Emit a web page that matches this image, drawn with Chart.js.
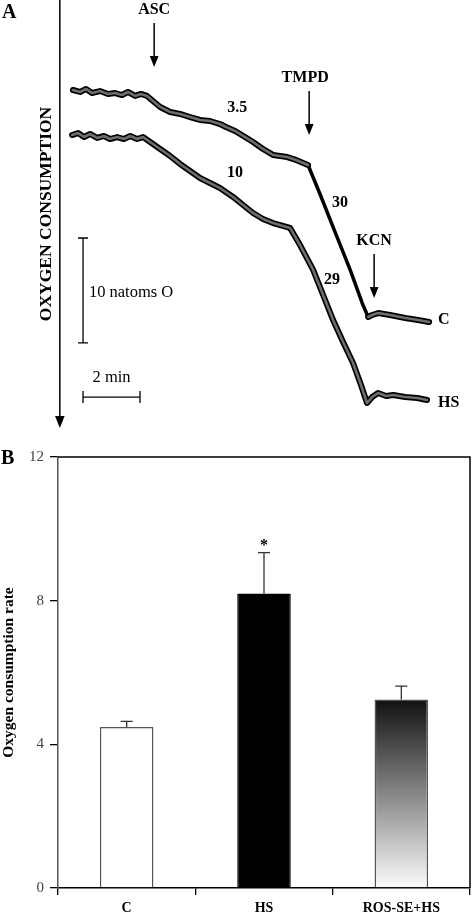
<!DOCTYPE html>
<html>
<head>
<meta charset="utf-8">
<script src="https://cdn.jsdelivr.net/npm/chart.js@4"></script>
<style>
  body { margin: 0; background: #fff; }
  #wrap { position: relative; width: 473px; height: 917px; }
  canvas { position: absolute; left: 0; }
  #traceCanvas { top: 0; }
  #barCanvas { top: 440px; }
</style>
</head>
<body>
<div id="wrap">
  <canvas id="traceCanvas" width="473" height="440"></canvas>
  <canvas id="barCanvas" width="473" height="477"></canvas>
</div>
<script>
// Panel A: oxygen electrode traces (time in min, O2 in natoms O)
const cTime = [0.46, 0.71, 0.92, 1.13, 1.41, 1.69, 1.94, 2.18, 2.39, 2.64, 2.85, 3.06, 3.27, 3.52, 3.87, 4.22, 4.57, 4.92, 5.27, 5.62, 5.83, 6.15, 6.5, 6.78, 7.13, 7.48, 7.98, 8.29, 8.54, 8.71, 9.13, 9.66, 10.19, 10.61, 10.82, 10.96, 11.17, 11.59, 12.12, 12.57, 12.96];
const cO2 = [33.41, 33.22, 33.51, 33.12, 33.31, 33.03, 33.12, 32.93, 33.22, 32.84, 33.03, 32.84, 32.36, 31.79, 31.31, 31.12, 30.83, 30.55, 30.45, 30.16, 29.88, 29.5, 28.92, 28.45, 27.78, 27.21, 27.01, 26.73, 26.44, 26.25, 23.48, 19.85, 16.23, 13.08, 11.74, 11.93, 12.12, 11.93, 11.65, 11.45, 11.26];

const hsTime = [0.43, 0.64, 0.85, 1.06, 1.31, 1.55, 1.76, 2.01, 2.25, 2.47, 2.71, 2.92, 3.17, 3.52, 3.87, 4.22, 4.57, 4.92, 5.27, 5.62, 6.08, 6.43, 6.78, 7.13, 7.48, 7.83, 8.08, 8.43, 8.89, 9.24, 9.59, 9.94, 10.29, 10.57, 10.78, 10.96, 11.17, 11.45, 11.7, 12.12, 12.54, 12.89];
const hsO2 = [29.11, 29.3, 28.92, 29.21, 28.83, 29.02, 28.73, 28.92, 28.73, 29.02, 28.73, 28.92, 28.45, 27.78, 27.11, 26.35, 25.68, 25.01, 24.53, 24.05, 23.2, 22.43, 21.67, 21.1, 20.71, 20.43, 20.24, 18.61, 16.23, 13.84, 11.45, 9.35, 7.35, 5.25, 3.53, 4.1, 4.49, 4.2, 4.3, 4.1, 4.01, 3.82];

// additions (arrows) and rates written on the traces
const addLabels = ["ASC", "TMPD", "KCN"];
const addTime = [3.31, 8.75, 11.03];
const addO2 = [35.6, 29.11, 13.55];

const rateLabels = ["3.5", "10", "30", "29"];
const rateTime = [6.23, 6.15, 9.83, 9.55];
const rateO2 = [31.69, 25.49, 22.62, 15.27];

// Panel B: rates
const groups = ["C", "HS", "ROS-SE+HS"];
const rates = [4.48, 8.2, 5.25];
const rateErr = [0.16, 1.14, 0.37];

const serif = "'Liberation Serif', 'DejaVu Serif', serif";

function zip(xs, ys) {
  return xs.map((x, i) => ({ x: x, y: ys[i] }));
}

function arrowDown(ctx, x, y1, y2, head) {
  ctx.beginPath();
  ctx.moveTo(x, y1);
  ctx.lineTo(x, y2 - head);
  ctx.stroke();
  ctx.beginPath();
  ctx.moveTo(x - head * 0.4, y2 - head);
  ctx.lineTo(x + head * 0.4, y2 - head);
  ctx.lineTo(x, y2);
  ctx.closePath();
  ctx.fill();
}

const traceNotes = {
  id: "traceNotes",
  afterDatasetsDraw(chart) {
    const ctx = chart.ctx;
    const sx = chart.scales.x, sy = chart.scales.y;
    const px = (t) => sx.getPixelForValue(t);
    const py = (v) => sy.getPixelForValue(v);
    ctx.save();
    ctx.strokeStyle = "#000";
    ctx.fillStyle = "#000";
    ctx.lineWidth = 1.5;

    // vertical axis with arrow
    arrowDown(ctx, px(0), 0, py(1.15), 12);

    // additions
    ctx.textAlign = "center";
    ctx.textBaseline = "middle";
    ctx.font = "bold 16px " + serif;
    addLabels.forEach((lab, i) => {
      const x = px(addTime[i]);
      const tip = py(addO2[i]);
      arrowDown(ctx, x, tip - 44, tip, 11);
      ctx.fillText(lab, x - (i === 1 ? 4 : 0), tip - 57);
    });

    // rates
    rateLabels.forEach((lab, i) => {
      ctx.fillText(lab, px(rateTime[i]), py(rateO2[i]));
    });

    // end labels
    ctx.textAlign = "left";
    ctx.fillText("C", px(13.27), py(11.45));
    ctx.fillText("HS", px(13.27), py(3.53));

    // y label
    ctx.save();
    ctx.translate(46, 214);
    ctx.rotate(-Math.PI / 2);
    ctx.textAlign = "center";
    ctx.font = "bold 17.5px " + serif;
    ctx.fillText("OXYGEN CONSUMPTION", 0, 0);
    ctx.restore();

    // panel letter
    ctx.font = "bold 20px " + serif;
    ctx.fillText("A", 2, 13);

    // scale bars
    ctx.lineWidth = 1.3;
    const bx = px(0.814), b1 = py(19.28), b2 = py(9.28);
    ctx.beginPath();
    ctx.moveTo(bx, b1); ctx.lineTo(bx, b2);
    ctx.moveTo(bx - 5, b1); ctx.lineTo(bx + 5, b1);
    ctx.moveTo(bx - 5, b2); ctx.lineTo(bx + 5, b2);
    const hy = py(4.1), h1 = px(0.814), h2 = px(2.814);
    ctx.moveTo(h1, hy); ctx.lineTo(h2, hy);
    ctx.moveTo(h1, hy - 6); ctx.lineTo(h1, hy + 6);
    ctx.moveTo(h2, hy - 6); ctx.lineTo(h2, hy + 6);
    ctx.stroke();
    ctx.font = "16.5px " + serif;
    ctx.textAlign = "left";
    ctx.fillText("10 natoms O", px(1.02), py(14.03));
    ctx.textAlign = "center";
    ctx.fillText("2 min", (h1 + h2) / 2, py(5.92));
    ctx.restore();
  },
};

// steep TMPD part of the C trace is drawn as a plain thinner black line
const isSteepC = (c) => c.p0.parsed.x >= 8.7 && c.p1.parsed.x <= 10.85;

new Chart(document.getElementById("traceCanvas"), {
  type: "line",
  data: {
    datasets: [
      { data: zip(cTime, cO2), borderColor: "#000", borderWidth: 6, order: 2,
        segment: { borderWidth: (c) => (isSteepC(c) ? 3.5 : undefined) } },
      { data: zip(cTime, cO2), borderColor: "#6e6e6e", borderWidth: 2.6, order: 1,
        segment: { borderColor: (c) => (isSteepC(c) ? "rgba(0,0,0,0)" : undefined) } },
      { data: zip(hsTime, hsO2), borderColor: "#000", borderWidth: 6, order: 2 },
      { data: zip(hsTime, hsO2), borderColor: "#6e6e6e", borderWidth: 2.6, order: 1 },
    ],
  },
  options: {
    responsive: false,
    animation: false,
    layout: { padding: 0 },
    elements: { point: { radius: 0 }, line: { tension: 0, borderJoinStyle: "round", borderCapStyle: "round" } },
    plugins: { legend: { display: false }, tooltip: { enabled: false } },
    scales: {
      x: { type: "linear", min: -2.1, max: 14.5, display: false },
      y: { type: "linear", min: 0, max: 42, display: false },
    },
  },
  plugins: [traceNotes],
});

const barExtras = {
  id: "barExtras",
  afterDatasetsDraw(chart) {
    const ctx = chart.ctx;
    const area = chart.chartArea;
    const sy = chart.scales.y;
    const meta = chart.getDatasetMeta(0);
    ctx.save();
    ctx.strokeStyle = "#000";
    ctx.lineWidth = 1.5;
    ctx.beginPath();
    ctx.moveTo(area.left, area.top);
    ctx.lineTo(area.right, area.top);
    ctx.lineTo(area.right, area.bottom);
    ctx.stroke();

    ctx.strokeStyle = "#333";
    ctx.lineWidth = 1.3;
    meta.data.forEach((bar, i) => {
      const top = sy.getPixelForValue(rates[i]);
      const end = sy.getPixelForValue(rates[i] + rateErr[i]);
      ctx.beginPath();
      ctx.moveTo(bar.x, top);
      ctx.lineTo(bar.x, end);
      ctx.moveTo(bar.x - 6, end);
      ctx.lineTo(bar.x + 6, end);
      ctx.stroke();
    });

    const hs = meta.data[1];
    ctx.fillStyle = "#000";
    ctx.font = "bold 16px " + serif;
    ctx.textAlign = "center";
    ctx.textBaseline = "middle";
    ctx.fillText("*", hs.x, sy.getPixelForValue(rates[1] + rateErr[1]) - 7);

    ctx.font = "bold 20px " + serif;
    ctx.textAlign = "left";
    ctx.fillText("B", 1, 19);
    ctx.restore();
  },
};

function rosFill(c) {
  const area = c.chart.chartArea;
  if (!area) return "#888";
  if (c.dataIndex === 0) return "#fff";
  if (c.dataIndex === 1) return "#000";
  const g = c.chart.ctx.createLinearGradient(0, c.chart.scales.y.getPixelForValue(rates[2]), 0, area.bottom);
  g.addColorStop(0, "#111");
  g.addColorStop(1, "#fcfcfc");
  return g;
}

new Chart(document.getElementById("barCanvas"), {
  type: "bar",
  data: {
    labels: groups,
    datasets: [
      {
        data: rates,
        backgroundColor: rosFill,
        borderColor: ["#555", "#000", "#555"],
        borderWidth: 1.5,
        barPercentage: 0.39,
        categoryPercentage: 1,
      },
    ],
  },
  options: {
    responsive: false,
    animation: false,
    layout: { padding: { top: 17, right: 3, left: 0, bottom: 0 } },
    plugins: { legend: { display: false }, tooltip: { enabled: false } },
    scales: {
      x: {
        afterFit: (s) => { s.height = 29; },
        border: { color: "#000", width: 1.5 },
        grid: { offset: true, drawOnChartArea: false, tickLength: 7, color: "#000", lineWidth: 1.3 },
        ticks: { color: "#000", padding: 5, font: { family: serif, size: 14, weight: "bold" } },
      },
      y: {
        min: 0,
        max: 12,
        afterFit: (s) => { s.width = 58; },
        border: { color: "#555", width: 1.5 },
        grid: { drawOnChartArea: false, tickLength: 8, color: "#000", lineWidth: 1.3 },
        ticks: { stepSize: 4, color: "#444", padding: 6, font: { family: serif, size: 15 } },
        title: {
          display: true,
          text: "Oxygen consumption rate",
          color: "#000",
          padding: 0,
          font: { family: serif, size: 15.5, weight: "bold" },
        },
      },
    },
  },
  plugins: [barExtras],
});
</script>
</body>
</html>
